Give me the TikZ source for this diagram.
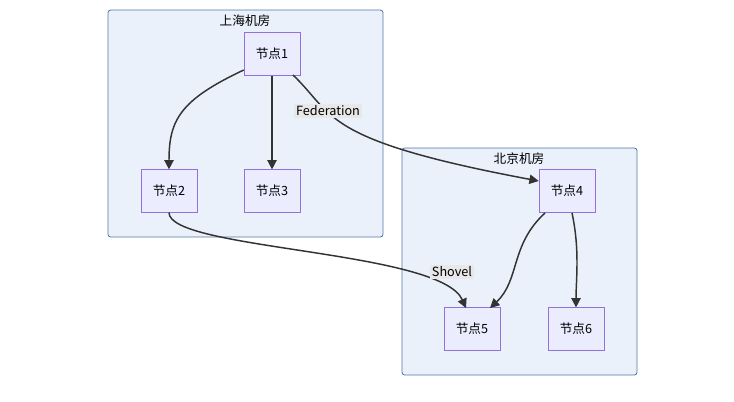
\documentclass[tikz,border=0pt]{standalone}
\usepackage{fontspec}
\setmainfont{Noto Sans CJK SC}
\usepackage{xcolor}
\definecolor{grp-fill}{HTML}{EAF1FB}
\definecolor{grp-line}{HTML}{4F78A8}
\definecolor{nd-fill}{HTML}{ECECFF}
\definecolor{nd-line}{HTML}{9370DB}
\definecolor{lbl-fill}{HTML}{E8E8E8}
\usetikzlibrary{arrows.meta}
\tikzset{
	room/.style={draw=grp-line,fill=grp-fill,rounded corners=2pt,line width=0.6pt},
	host/.style={draw=nd-line,fill=nd-fill,minimum width=42pt,minimum height=32pt,font=\fontsize{9.5}{11}\selectfont},
	link/.style={draw=black!80,line width=1.1pt,-{Triangle[length=7pt,width=7pt]}},
	tag/.style={fill=lbl-fill,inner sep=1.5pt,font=\fontsize{9.5}{11}\selectfont}
}
\begin{document}
\begin{tikzpicture}[x=0.75pt,y=-0.75pt]
	\useasboundingbox (0,0) rectangle (734,401);
	
	\draw[room] (108,10) rectangle (383,237);
	\draw[room] (402,148) rectangle (637,375);
	\node[font=\fontsize{9.5}{11}\selectfont] (sh) at (245,21) {上海机房};
	\node[font=\fontsize{9.5}{11}\selectfont] (bj) at (519,159) {北京机房};
	
	\node[host] (n1) at (272,54) {节点1};
	\node[host] (n2) at (169,191) {节点2};
	\node[host] (n3) at (272,191) {节点3};
	\node[host] (n4) at (567,191) {节点4};
	\node[host] (n5) at (472,329) {节点5};
	\node[host] (n6) at (576,329) {节点6};
	
	\draw[link] (n1.west|-245,70) .. controls (180,100) and (169,120) .. (n2.north);
	\draw[link] (n1) -- (n3);
	\draw[link] (293,75) .. controls (335,115) and (320,140) .. (n4.west|-540,181);
	\draw[link] (n2.south) .. controls (169,250) and (440,250) .. (466,308);
	\draw[link] (545,213) .. controls (510,245) and (520,280) .. (490,308);
	\draw[link] (572,213) .. controls (580,250) and (576,280) .. (n6.north);
	
	\node[tag] (fed) at (328,111) {Federation};
	\node[tag] (sho) at (452,272) {Shovel};
\end{tikzpicture}
\end{document}
